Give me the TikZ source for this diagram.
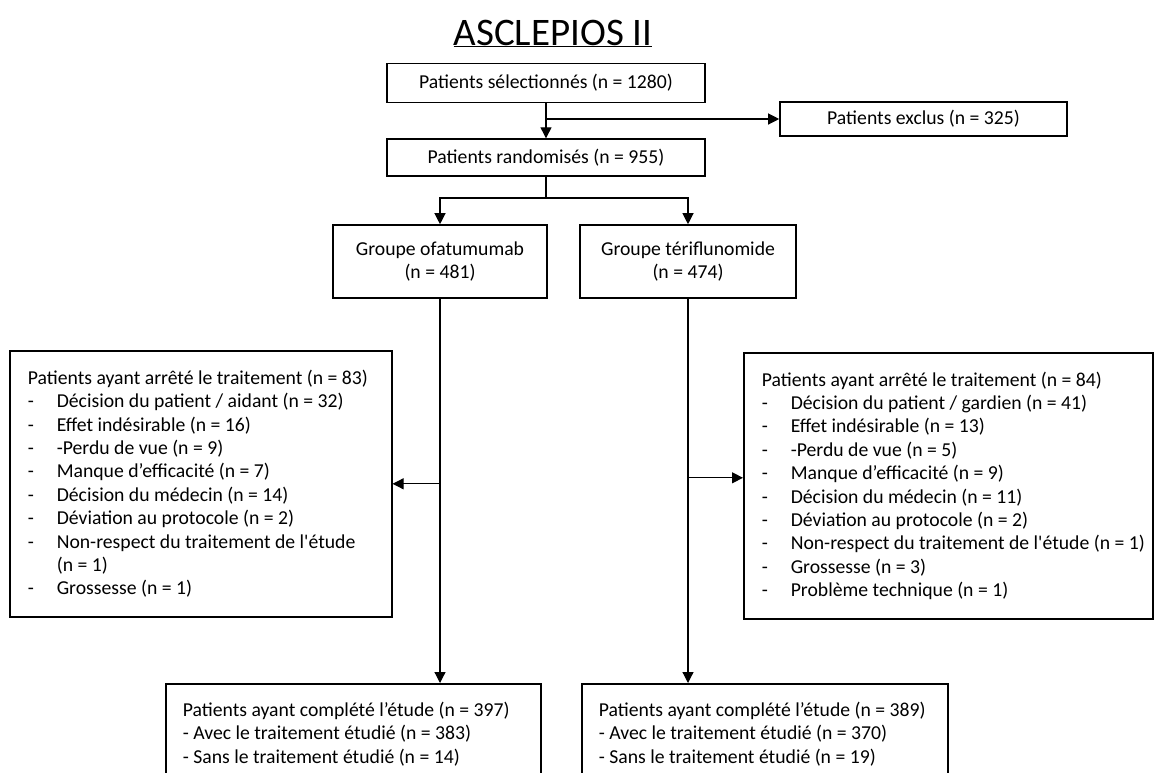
\documentclass[tikz,border=0pt]{standalone}
\usepackage{fontspec}
\setmainfont{Carlito}
\usepackage{tikz}
\usetikzlibrary{arrows.meta,positioning}
\tikzstyle{flow}=[draw, line width=1.6pt, align=center, inner sep=0pt]
\tikzstyle{group}=[flow, minimum height=73pt]
\tikzstyle{stopped}=[draw, line width=1.6pt, align=flush left, anchor=north west, inner xsep=18pt, inner ysep=0pt, minimum height=266pt]
\tikzstyle{done}=[draw, line width=1.6pt, align=flush left, anchor=north west, inner xsep=17pt, inner ysep=0pt, minimum height=100pt]
\newcommand{\dashitem}[1]{\mbox{\makebox[29pt][l]{-}#1}}

\begin{document}
\begin{tikzpicture}[x=1pt,y=-1pt,>={Triangle[length=11pt,width=11pt]},line width=1.2pt,font=\fontsize{19.7pt}{23.4pt}\selectfont]
    \useasboundingbox (0,0) rectangle (1154,772);
    \clip (0,0) rectangle (1154,772);
    \node [anchor=base,font=\fontsize{39pt}{42pt}\selectfont] (title) at (553,45) {\underline{ASCLEPIOS II}};
    \node [flow, minimum width=318pt, minimum height=39pt] (sel) at (546,83) {Patients sélectionnés (n = 1280)};
    \node [flow, minimum width=287pt, minimum height=34pt] (excl) at (923.5,119) {Patients exclus (n = 325)};
    \node [flow, minimum width=318pt, minimum height=37pt] (rand) [below=35pt of sel] {Patients randomisés (n = 955)};
    \coordinate (split) at (546,198);
    \node [group, minimum width=214pt] (ofa) at (440,261.5) {Groupe ofatumumab\\(n = 481)};
    \node [group, minimum width=216pt] (teri) at (688,261.5) {Groupe tériflunomide\\(n = 474)};
    \node [stopped, text width=346pt] (stopA) at (9,350) {\mbox{Patients ayant arrêté le traitement (n = 83)}\\
        \dashitem{Décision du patient / aidant (n = 32)}\\
        \dashitem{Effet indésirable (n = 16)}\\
        \dashitem{-Perdu de vue (n = 9)}\\
        \dashitem{Manque d’efficacité (n = 7)}\\
        \dashitem{Décision du médecin (n = 14)}\\
        \dashitem{Déviation au protocole (n = 2)}\\
        \dashitem{Non-respect du traitement de l\textquotesingle étude}\\
        \hspace*{29pt}(n = 1)\\
        \dashitem{Grossesse (n = 1)}};
    \node [stopped, text width=373pt] (stopB) at (743,352) {\mbox{Patients ayant arrêté le traitement (n = 84)}\\
        \dashitem{Décision du patient / gardien (n = 41)}\\
        \dashitem{Effet indésirable (n = 13)}\\
        \dashitem{-Perdu de vue (n = 5)}\\
        \dashitem{Manque d’efficacité (n = 9)}\\
        \dashitem{Décision du médecin (n = 11)}\\
        \dashitem{Déviation au protocole (n = 2)}\\
        \dashitem{Non-respect du traitement de l\textquotesingle étude (n = 1)}\\
        \dashitem{Grossesse (n = 3)}\\
        \dashitem{Problème technique (n = 1)}};
    \node [done, text width=341pt] (doneA) at (165,683) {\mbox{Patients ayant complété l’étude (n = 397)}\\
        \mbox{- Avec le traitement étudié (n = 383)}\\
        \mbox{- Sans le traitement étudié (n = 14)}};
    \node [done, text width=332pt] (doneB) at (581,683) {\mbox{Patients ayant complété l’étude (n = 389)}\\
        \mbox{- Avec le traitement étudié (n = 370)}\\
        \mbox{- Sans le traitement étudié (n = 19)}};
    % connectors
    \draw[->] (sel) -- (rand);
    \draw[->] (sel.south |- excl.west) -- (excl.west);
    \draw (rand) -- (split);
    \draw[->] (split) -| (ofa);
    \draw[->] (split) -| (teri);
    \draw[->] (ofa) -- (ofa |- doneA.north);
    \draw[->] (teri) -- (teri |- doneB.north);
    \draw[->] (ofa |- stopA.east) -- (stopA.east);
    \path (teri |- stopB.west) ++(0,-8) coordinate (tapB);
    \draw[->] (tapB) -- (tapB -| stopB.west);
\end{tikzpicture}
\end{document}
